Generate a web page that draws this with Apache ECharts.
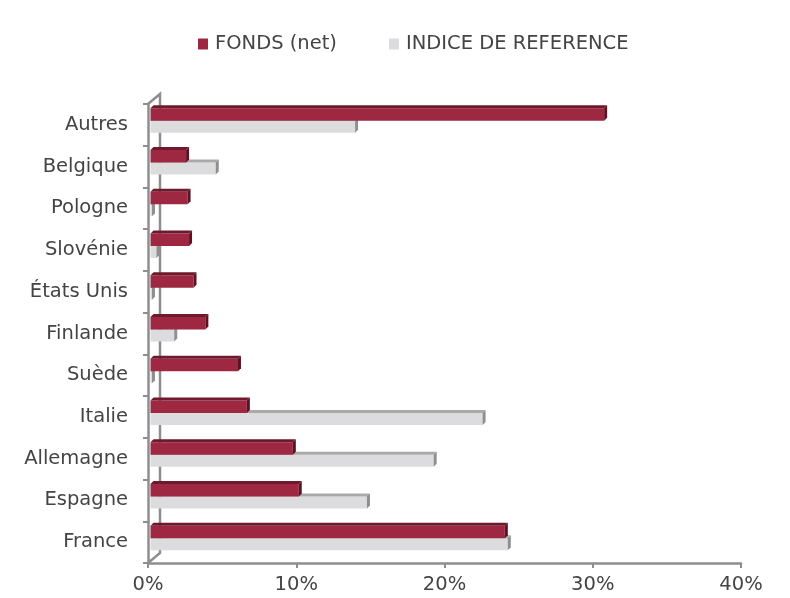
<!DOCTYPE html>
<html>
<head>
<meta charset="utf-8">
<script src="https://cdn.jsdelivr.net/npm/echarts@6/dist/echarts.min.js"></script>
<style>
  html, body { margin: 0; padding: 0; background: #fff; }
  #main { width: 790px; height: 598px; }
</style>
</head>
<body>
<div id="main"></div>
<script>
// pays (de bas en haut)
var categories = ['France', 'Espagne', 'Allemagne', 'Italie', 'Suède', 'Finlande', 'États Unis', 'Slovénie', 'Pologne', 'Belgique', 'Autres'];
var fonds = [23.9, 10.0, 9.6, 6.5, 5.9, 3.7, 2.9, 2.6, 2.5, 2.4, 30.6];
var indice = [24.1, 14.6, 19.1, 22.4, 0.1, 1.6, 0.1, 0.4, 0.1, 4.4, 13.8];
var xTicks = [0, 10, 20, 30, 40];

var font = 'DejaVu Sans';
var txtColor = '#444';
var axisColor = '#8e8e8e';

// barre "3D" : face avant + dessus + cote
function bar3d(colors, off1, off2) {
  return function (params, api) {
    var v = api.value(0), ci = api.value(1);
    var p0 = api.coord([0, ci]);
    var p1 = api.coord([v, ci]);
    var c = p0[1];
    var xs = p0[0] + 2.5;
    var xe = Math.max(p1[0] + 2.5, xs);
    var top = c + off1, bottom = c + off2, d = 3;
    return {
      type: 'group',
      children: [
        { type: 'rect', shape: { x: xs, y: top, width: xe - xs, height: bottom - top },
          style: { fill: colors[0] } },
        { type: 'polygon', shape: { points: [[xs, top], [xe, top], [xe + d, top - d], [xs + d, top - d]] },
          style: { fill: colors[1] } },
        { type: 'polygon', shape: { points: [[xe, top], [xe + d, top - d], [xe + d, bottom - d], [xe, bottom]] },
          style: { fill: colors[2] } }
      ]
    };
  };
}

function toData(arr) {
  var out = [];
  for (var i = 0; i < arr.length; i++) out.push([arr[i], i]);
  return out;
}

var chart = echarts.init(document.getElementById('main'));
chart.setOption({
  backgroundColor: '#fff',
  animation: false,
  legend: {
    top: 29,
    left: 193,
    itemWidth: 10,
    itemHeight: 11,
    itemGap: 52,
    textStyle: { fontFamily: font, fontSize: 19.5, color: txtColor, padding: [0, 0, 0, 2] },
    data: [{ name: 'FONDS (net)', icon: 'rect' }, { name: 'INDICE DE REFERENCE', icon: 'rect' }]
  },
  grid: { left: 148, right: 49, top: 104, bottom: 35 },
  xAxis: {
    type: 'value',
    min: xTicks[0],
    max: xTicks[xTicks.length - 1],
    interval: 10,
    axisLine: { show: true, lineStyle: { color: axisColor, width: 2.5 } },
    axisTick: { show: true, length: 5, lineStyle: { color: axisColor, width: 2 } },
    splitLine: { show: false },
    axisLabel: { formatter: '{value}%', fontFamily: font, fontSize: 19.5, color: txtColor, margin: 12 }
  },
  yAxis: {
    type: 'category',
    data: categories,
    axisLine: { show: true, lineStyle: { color: axisColor, width: 2.5 } },
    axisTick: { show: true, length: 5, lineStyle: { color: axisColor, width: 2 } },
    axisLabel: { fontFamily: font, fontSize: 19.5, color: txtColor, margin: 20 }
  },
  graphic: [
    { type: 'polyline', z: 0, silent: true,
      shape: { points: [[148, 104], [160, 94], [160, 553], [148, 563]] },
      style: { stroke: axisColor, lineWidth: 2.5, fill: null } }
  ],
  series: [
    {
      name: 'FONDS (net)',
      type: 'custom',
      z: 3,
      itemStyle: { color: '#9e2842' },
      encode: { x: 0, y: 1 },
      renderItem: bar3d(['#9e2842', '#6e1a2c', '#5a1322'], -16.5, -4),
      data: toData(fonds)
    },
    {
      name: 'INDICE DE REFERENCE',
      type: 'custom',
      z: 2,
      itemStyle: { color: '#dcdcde' },
      encode: { x: 0, y: 1 },
      renderItem: bar3d(['#dcdcde', '#a9a9a9', '#8f8f8f'], -4, 8),
      data: toData(indice)
    }
  ]
});
</script>
</body>
</html>
